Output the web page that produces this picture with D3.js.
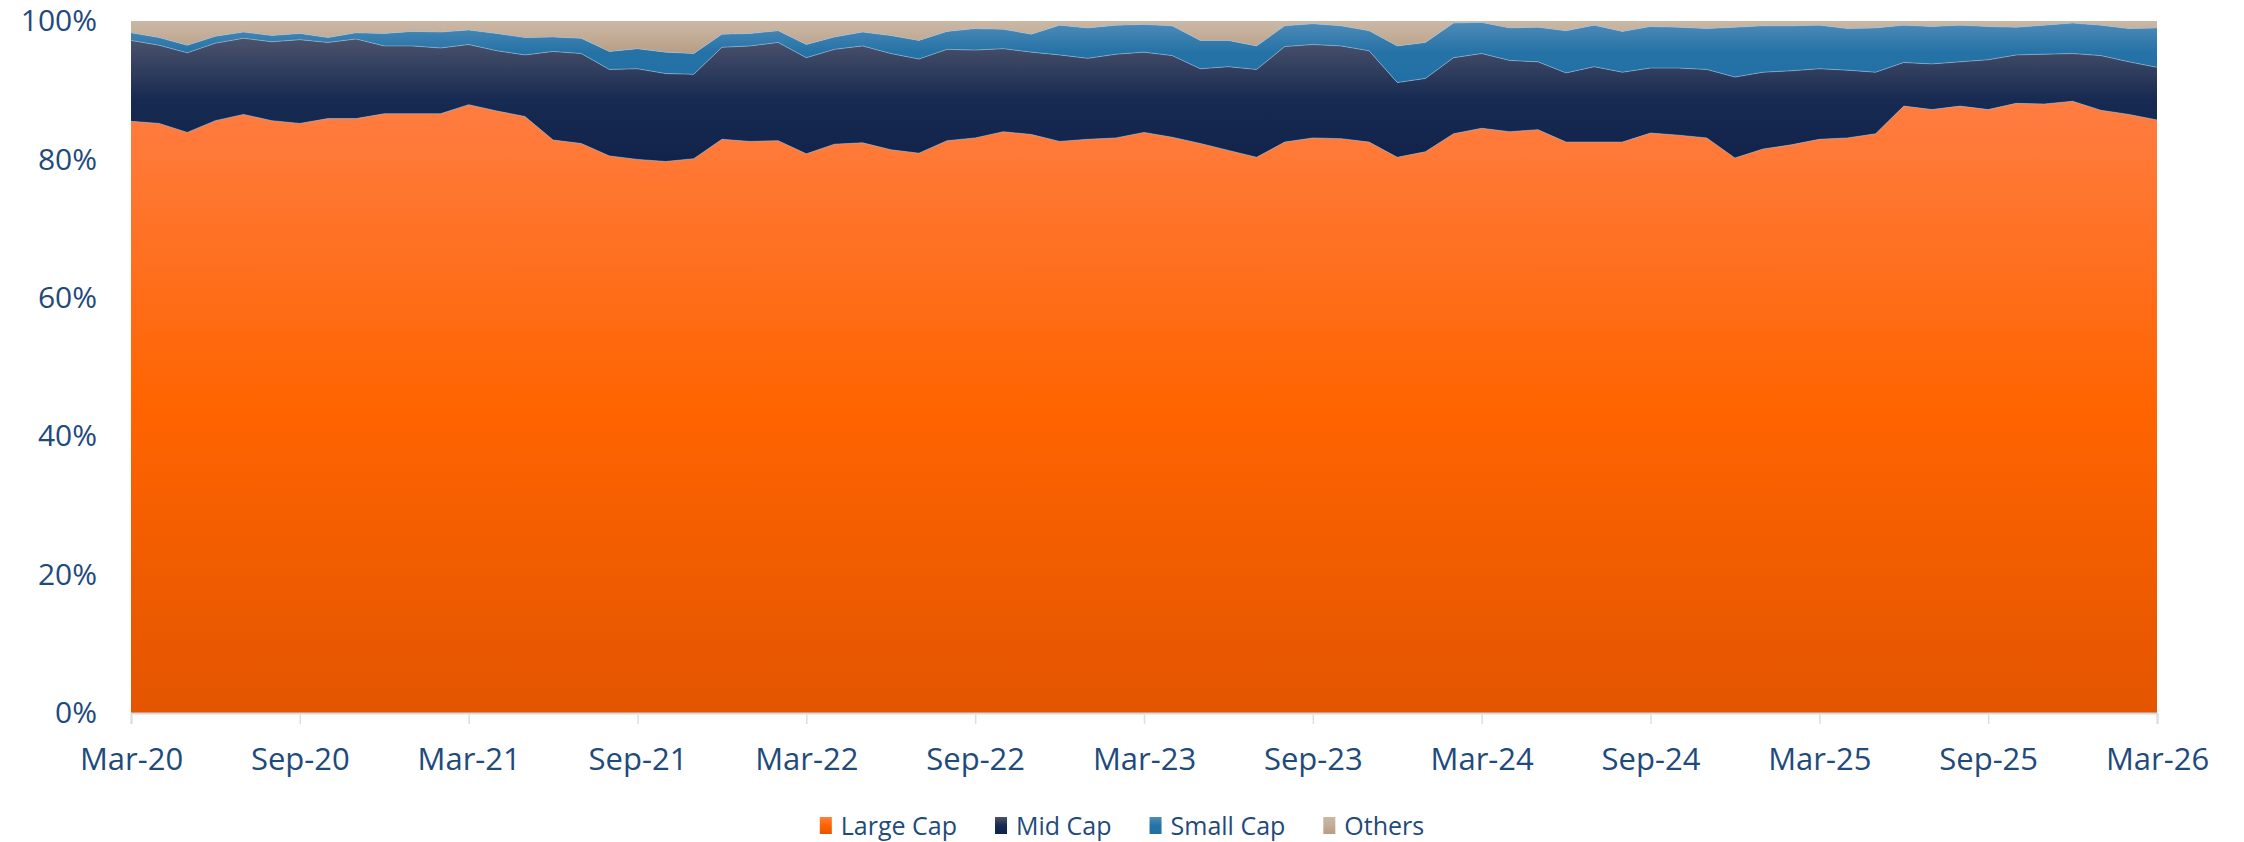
<!DOCTYPE html>
<html>
<head>
<meta charset="utf-8">
<script src="https://cdn.jsdelivr.net/npm/d3@7/dist/d3.min.js"></script>
<style>
  body { margin: 0; background: #fff; }
</style>
</head>
<body>
<div id="chart"></div>
<script>
// months Mar-20 .. Mar-26
const months = d3.timeMonth.range(new Date(2020, 2, 1), new Date(2026, 3, 1)).map(d3.timeFormat('%b-%y'));
const tickLabels = ['Mar-20', 'Sep-20', 'Mar-21', 'Sep-21', 'Mar-22', 'Sep-22', 'Mar-23', 'Sep-23', 'Mar-24', 'Sep-24', 'Mar-25', 'Sep-25', 'Mar-26'];
const yTicks = [0, 20, 40, 60, 80, 100];
const seriesNames = ['Large Cap', 'Mid Cap', 'Small Cap', 'Others'];

const largeCap = [
  85.5, 85.2, 83.9, 85.6, 86.5, 85.6, 85.2, 85.9, 85.9, 86.6, 86.6, 86.6, 87.9, 87.0, 86.2,
  82.8, 82.3, 80.5, 80.0, 79.7, 80.1, 82.9, 82.6, 82.7, 80.8, 82.2, 82.4, 81.4, 80.9, 82.7,
  83.1, 84.0, 83.6, 82.6, 82.9, 83.1, 83.9, 83.2, 82.3, 81.3, 80.3, 82.5, 83.1, 83.0,
  82.5, 80.3, 81.1, 83.7, 84.5, 84.0, 84.3, 82.5, 82.5, 82.5, 83.8, 83.5, 83.1, 80.2, 81.5,
  82.1, 82.9, 83.1, 83.7, 87.7, 87.2, 87.7, 87.2, 88.1, 88.0, 88.4, 87.1, 86.5, 85.7
];
const midCap = [
  11.7, 11.3, 11.5, 11.2, 11.0, 11.4, 12.1, 11.0, 11.5, 9.8, 9.8, 9.5, 8.7, 8.7, 8.9,
  12.8, 13.0, 12.5, 13.1, 12.7, 12.2, 13.3, 13.8, 14.2, 13.9, 13.7, 14.0, 13.9, 13.6, 13.2,
  12.7, 12.0, 11.9, 12.5, 11.7, 12.1, 11.6, 11.8, 10.8, 12.1, 12.7, 13.8, 13.5, 13.4,
  13.2, 10.8, 10.6, 11.0, 10.8, 10.3, 9.8, 10.0, 10.9, 10.1, 9.4, 9.7, 9.9, 11.7, 11.1,
  10.7, 10.2, 9.8, 8.9, 6.3, 6.6, 6.4, 7.2, 7.0, 7.2, 6.9, 7.9, 7.6, 7.6
];
const smallCap = [
  1.1, 1.1, 1.1, 1.0, 0.9, 0.9, 0.9, 0.7, 0.9, 1.8, 2.1, 2.3, 2.1, 2.5, 2.5,
  2.1, 2.2, 2.6, 2.9, 3.1, 3.0, 1.9, 1.8, 1.7, 1.9, 1.8, 2.0, 2.6, 2.7, 2.6,
  3.1, 2.8, 2.6, 4.3, 4.4, 4.2, 4.0, 4.3, 4.1, 3.8, 3.4, 3.0, 3.0, 2.9,
  2.9, 5.3, 5.2, 5.0, 4.5, 4.7, 5.0, 6.1, 6.0, 5.9, 6.0, 5.9, 5.9, 7.2, 6.7,
  6.5, 6.3, 6.0, 6.4, 5.4, 5.4, 5.3, 4.8, 4.0, 4.2, 4.4, 4.4, 4.8, 5.7
];
const others = [
  1.7, 2.4, 3.5, 2.2, 1.6, 2.1, 1.8, 2.4, 1.7, 1.8, 1.5, 1.6, 1.3, 1.8, 2.4,
  2.3, 2.5, 4.4, 4.0, 4.5, 4.7, 1.9, 1.8, 1.4, 3.4, 2.3, 1.6, 2.1, 2.8, 1.5,
  1.1, 1.2, 1.9, 0.6, 1.0, 0.6, 0.5, 0.7, 2.8, 2.8, 3.6, 0.7, 0.4, 0.7,
  1.4, 3.6, 3.1, 0.3, 0.2, 1.0, 0.9, 1.4, 0.6, 1.5, 0.8, 0.9, 1.1, 0.9, 0.7,
  0.7, 0.6, 1.1, 1.0, 0.6, 0.8, 0.6, 0.8, 0.9, 0.6, 0.3, 0.6, 1.1, 1.0
];

const width = 2244, height = 842;
const margin = { top: 21, right: 87, bottom: 129, left: 131 };
const innerWidth = width - margin.left - margin.right;
const innerHeight = height - margin.top - margin.bottom;
const fontFamily = '"Open Sans", "Noto Sans", sans-serif';
const textColor = '#1F4A7C';

const table = months.map((m, i) => ({
  month: m,
  'Large Cap': largeCap[i],
  'Mid Cap': midCap[i],
  'Small Cap': smallCap[i],
  'Others': others[i]
}));

const svg = d3.select('#chart').append('svg')
  .attr('width', width)
  .attr('height', height)
  .attr('font-family', fontFamily);

// gradients, one per series
const gradients = {
  'Large Cap': ['#FF7D42', '#FF6400', '#E35500'],
  'Mid Cap': ['#4C536B', '#172A52', '#11234A'],
  'Small Cap': ['#4E8BB8', '#2572A6', '#2170A5'],
  'Others': ['#CAB8A5', '#C2AC96', '#B79D84']
};
const defs = svg.append('defs');
seriesNames.forEach((name, k) => {
  const grad = defs.append('linearGradient')
    .attr('id', 'grad' + k)
    .attr('x1', 0).attr('y1', 0).attr('x2', 0).attr('y2', 1);
  gradients[name].forEach((c, j) => {
    grad.append('stop').attr('offset', (j * 50) + '%').attr('stop-color', c);
  });
});

const g = svg.append('g')
  .attr('transform', `translate(${margin.left},${margin.top})`);

const x = d3.scalePoint()
  .domain(months)
  .range([0, innerWidth]);

const y = d3.scaleLinear()
  .domain([0, 100])
  .range([innerHeight, 0]);

const stacked = d3.stack().keys(seriesNames)(table);

const area = d3.area()
  .x(d => x(d.data.month))
  .y0(d => y(d[0]))
  .y1(d => y(d[1]));

g.selectAll('.layer')
  .data(stacked)
  .enter().append('path')
  .attr('class', 'layer')
  .attr('d', area)
  .style('fill', (d, i) => `url(#grad${i})`);

// faint edge on top of each layer
const topLine = d3.line()
  .x(d => x(d.data.month))
  .y(d => y(d[1]));
g.selectAll('.edge')
  .data(stacked.slice(0, 3))
  .enter().append('path')
  .attr('class', 'edge')
  .attr('d', topLine)
  .style('fill', 'none')
  .style('stroke', '#9DBBD8')
  .style('stroke-opacity', 0.55)
  .style('stroke-width', 1);

// Axes
const xAxis = g.append('g')
  .attr('transform', `translate(0,${innerHeight})`)
  .call(d3.axisBottom(x).tickValues(tickLabels).tickSize(11).tickPadding(24))
  .attr('font-family', fontFamily)
  .attr('font-size', 31);
xAxis.select('.domain').style('stroke', '#D9D9D9').style('stroke-width', 2);
xAxis.selectAll('.tick line').style('stroke', '#D6E0EC').style('stroke-width', 1.5);
xAxis.selectAll('text').attr('fill', textColor);

const yAxis = g.append('g')
  .call(d3.axisLeft(y).tickValues(yTicks).tickFormat(d => d + '%').tickSize(0).tickPadding(34))
  .attr('font-family', fontFamily)
  .attr('font-size', 30);
yAxis.select('.domain').remove();
yAxis.selectAll('text').attr('fill', textColor);

// Legend
const legend = svg.append('g')
  .attr('transform', 'translate(0,826)')
  .attr('font-size', 25);
const items = legend.selectAll('.item')
  .data(seriesNames)
  .enter().append('g')
  .attr('class', 'item');
items.append('rect')
  .attr('width', 12)
  .attr('height', 17)
  .attr('y', -9)
  .style('fill', (d, i) => `url(#grad${i})`);
items.append('text')
  .attr('x', 21)
  .attr('dy', '0.35em')
  .attr('fill', textColor)
  .text(d => d);

const gap = 38;
let offset = 0;
const positions = [];
items.each(function () {
  const w = 21 + this.querySelector('text').getComputedTextLength();
  positions.push(offset);
  offset += w + gap;
});
const total = offset - gap;
items.attr('transform', (d, i) => `translate(${width / 2 - total / 2 + positions[i]},0)`);
</script>
</body>
</html>
